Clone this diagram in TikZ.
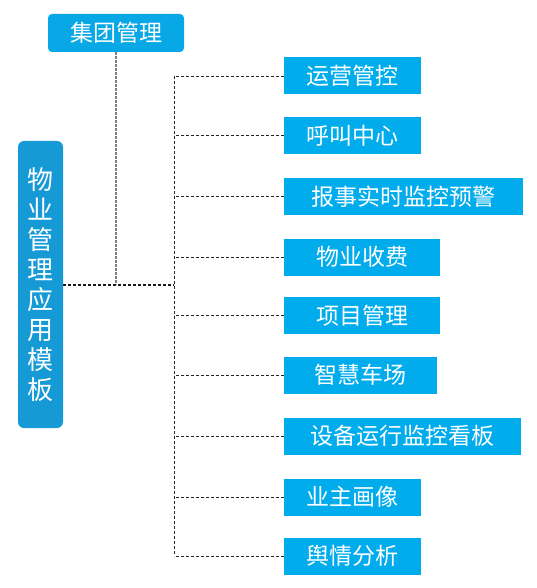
\documentclass[tikz,border=0pt]{standalone}
\usepackage{fontspec}
\usepackage{tikz}
\usetikzlibrary{positioning,calc}
\newfontfamily\cjk{Noto Sans CJK SC}
\definecolor{skyCS}{RGB}{0,172,236}
\definecolor{deepCS}{RGB}{22,154,214}
\definecolor{groupCS}{RGB}{8,168,230}
\colorlet{LinkGrey}{black!50}

\begin{document}
\begin{tikzpicture}[x=1pt,y=-1pt,
        item/.style={fill=skyCS,text=white,minimum height=37pt,inner sep=0pt,anchor=west,
          font=\cjk\fontsize{23}{23}\selectfont},
        head/.style={fill=groupCS,text=white,rounded corners=4pt,minimum width=136pt,minimum height=38pt,
          inner sep=0pt,font=\cjk\fontsize{23}{23}\selectfont},
        root/.style={fill=deepCS,text=white,rounded corners=6pt,minimum width=45pt,minimum height=287pt,
          inner sep=0pt,align=center,font=\cjk\fontsize{26}{30}\selectfont},
        link/.style={line width=0.9pt,black!85,dash pattern=on 3pt off 2pt},
        trunk/.style={line width=1.3pt,black!90,dash pattern=on 3pt off 2pt},
        softlink/.style={line width=1.2pt,LinkGrey,dash pattern=on 2.5pt off 1.5pt}
      ]
        \useasboundingbox (0,0) rectangle (537,588);
        \node[root] (main) at (40.5,284.5) {物\\业\\管\\理\\应\\用\\模\\板};
        \node[head] (jt) at (116,33) {集团管理};
        \coordinate (hub) at (174,285);
        \node[item,minimum width=137pt] (b1) at (284,76) {运营管控};
        \node[item,minimum width=137pt] (b2) at (284,135.5) {呼叫中心};
        \node[item,minimum width=239pt] (b3) at (284,196.5) {报事实时监控预警};
        \node[item,minimum width=156pt] (b4) at (284,257) {物业收费};
        \node[item,minimum width=156pt] (b5) at (284,315.5) {项目管理};
        \node[item,minimum width=153pt] (b6) at (284,375) {智慧车场};
        \node[item,minimum width=237pt] (b7) at (284,436) {设备运行监控看板};
        \node[item,minimum width=137pt] (b8) at (284,497) {业主画像};
        \node[item,minimum width=137pt] (b9) at (284,556) {舆情分析};
        % links
        \draw[softlink] (jt.south) -- (jt.south |- hub);
        \draw[trunk] (main.east |- hub) -- (hub);
        \draw[link] (b1.west -| hub) -- (b9.west -| hub);
        \draw[link] (b1.west) -- (b1.west -| hub);
        \draw[link] (b2.west) -- (b2.west -| hub);
        \draw[link] (b3.west) -- (b3.west -| hub);
        \draw[link] (b4.west) -- (b4.west -| hub);
        \draw[link] (b5.west) -- (b5.west -| hub);
        \draw[link] (b6.west) -- (b6.west -| hub);
        \draw[link] (b7.west) -- (b7.west -| hub);
        \draw[link] (b8.west) -- (b8.west -| hub);
        \draw[link] (b9.west) -- (b9.west -| hub);
      \end{tikzpicture}
\end{document}
